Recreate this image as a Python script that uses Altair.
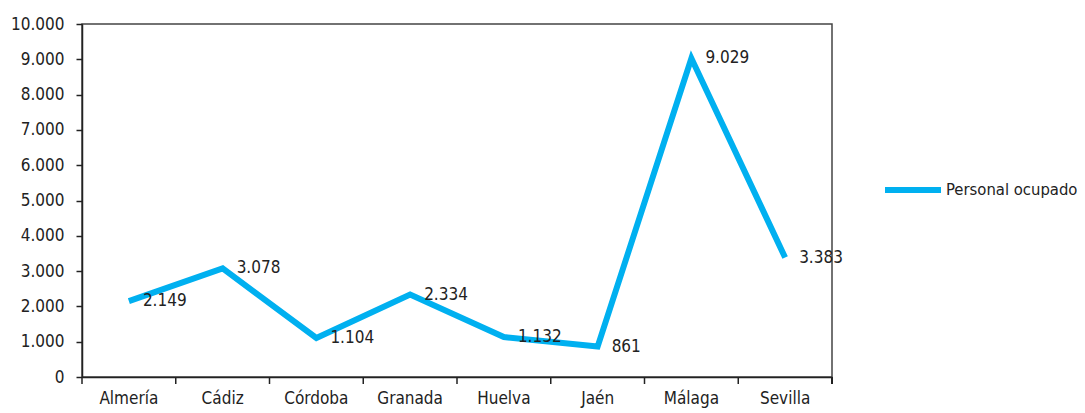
import altair as alt
import pandas as pd

provincias = ["Almería", "Cádiz", "Córdoba", "Granada", "Huelva", "Jaén", "Málaga", "Sevilla"]
personal = [2149, 3078, 1104, 2334, 1132, 861, 9029, 3383]
serie = "Personal ocupado"

df = pd.DataFrame({"Provincia": provincias, "Valor": personal, "Serie": [serie] * len(provincias)})
df["Etiqueta"] = [f"{v:,}".replace(",", ".") for v in personal]

FONT = "DejaVu Sans Condensed, Liberation Sans, sans-serif"
FS = 17
TXT = "#222222"
BLUE = "#00B0F0"

x_scale = alt.Scale(type="band", paddingInner=0, paddingOuter=0)
y_scale = alt.Scale(domain=[0, 10000], nice=False)
x_axis = alt.Axis(labelAngle=0, ticks=False, labelPadding=13)
y_axis = alt.Axis(values=list(range(0, 10001, 1000)),
                  labelExpr="replace(format(datum.value, ','), ',', '.')",
                  tickSize=6, labelPadding=12)

x_enc = alt.X("Provincia:N", sort=provincias, title=None, scale=x_scale, axis=x_axis)
y_enc = alt.Y("Valor:Q", title=None, scale=y_scale, axis=y_axis)

line = alt.Chart(df).mark_line(strokeWidth=6, strokeJoin="miter").encode(
    x=x_enc, y=y_enc,
    color=alt.Color("Serie:N", scale=alt.Scale(range=[BLUE]),
                    legend=alt.Legend(title=None, orient="none", legendX=800, legendY=135,
                                      symbolType="stroke", symbolSize=3136,
                                      symbolStrokeWidth=6, labelFont=FONT,
                                      labelFontSize=16.5, labelColor=TXT, padding=0,
                                      labelOffset=2, labelLimit=0))
)

xticks = alt.Chart(df).mark_rule(color="#222", strokeWidth=1.5).encode(
    x=alt.X("Provincia:N", sort=provincias, title=None, scale=x_scale, axis=x_axis,
            bandPosition=0),
    y=alt.value(353), y2=alt.value(360)
)

labels = alt.Chart(df).mark_text(align="left", baseline="middle", dx=14, dy=0,
                                 font=FONT, fontSize=FS, color=TXT).encode(
    x=x_enc, y=y_enc, text="Etiqueta:N"
)

right_tick = alt.Chart(df).mark_rule(color="#222", strokeWidth=1.5).encode(
    x=alt.value(750), y=alt.value(353), y2=alt.value(360)
)

chart = alt.layer(line, xticks, labels, right_tick).properties(
    width=750, height=353,
    autosize=alt.AutoSizeParams(type="none"),
    padding={"left": 74, "top": 16, "right": 245, "bottom": 36},
).configure_view(stroke="#444", strokeWidth=1.5).configure_axis(
    grid=False, labelFont=FONT, labelFontSize=FS, labelColor=TXT,
    domainColor="#222", domainWidth=1.5, tickColor="#222", tickWidth=1.5,
    labelOverlap=False
)

chart.save("out.html", embed_options={"renderer": "svg", "actions": False})
